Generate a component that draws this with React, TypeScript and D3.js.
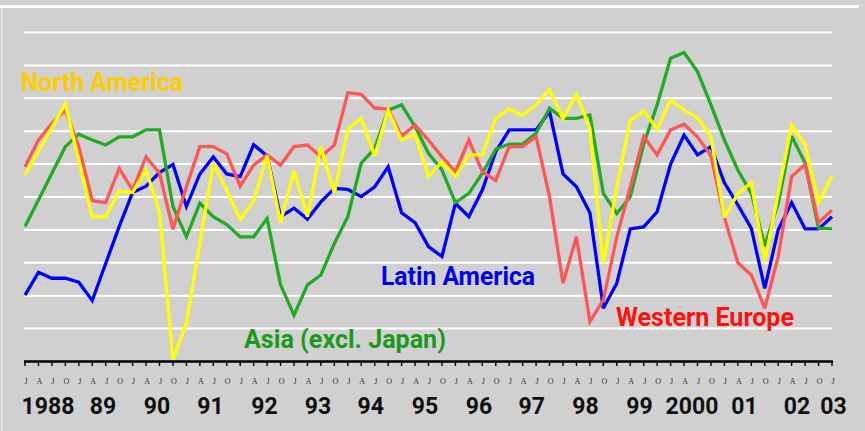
import React from "react";
import * as d3 from "d3";

const W = 865;
const H = 431;

// quarters from Jan 1988 (index 0) to Jan 2003 (index 60)
const quarterLetters = ["J", "A", "J", "O"];
const yearLabels = ["1988", "89", "90", "91", "92", "93", "94", "95", "96", "97", "98", "99", "2000", "01", "02", "03"];
const yearLabelQuarter = [1.71, 5.8, 9.81, 13.79, 17.81, 21.78, 25.71, 29.74, 33.75, 37.67, 41.67, 45.69, 49.59, 53.49, 57.4, 60.11];

const northAmerica = [
  5.67, 6.39, 7.11, 7.83, 6.12, 4.4, 4.4, 5.18, 5.14, 5.82, 4.55, 0.05, 1.16, 3.59, 6.03, 5.21,
  4.32, 4.89, 6.25, 4.22, 5.8, 4.4, 6.53, 5.13, 7.06, 7.39, 6.25, 7.64, 6.73, 6.91, 5.62, 6.07,
  5.62, 6.28, 6.28, 7.39, 7.68, 7.48, 7.8, 8.27, 7.38, 8.13, 7.09, 2.98, 5.31, 7.32, 7.62, 7.06,
  7.95, 7.64, 7.41, 6.83, 4.38, 5.11, 5.43, 3.03, 5.11, 7.19, 6.58, 4.83, 5.64,
];
const latinAmerica = [
  2.02, 2.71, 2.53, 2.53, 2.41, 1.85, 2.98, 4.1, 5.14, 5.33, 5.74, 5.99, 4.71, 5.7, 6.22, 5.7,
  5.62, 6.59, 6.25, 4.4, 4.66, 4.33, 4.85, 5.26, 5.23, 5.01, 5.31, 5.92, 4.52, 4.22, 3.49, 3.19,
  4.81, 4.4, 5.21, 6.38, 7.04, 7.04, 7.04, 7.6, 5.7, 5.31, 4.52, 1.62, 2.38, 4.03, 4.09, 4.55,
  6.0, 6.88, 6.28, 6.53, 5.43, 4.76, 4.05, 2.22, 4.0, 4.83, 4.03, 4.03, 4.4,
];
const asiaExJapan = [
  4.1, 4.91, 5.72, 6.53, 6.91, 6.73, 6.58, 6.83, 6.83, 7.04, 7.04, 4.71, 3.79, 4.81, 4.4, 4.16,
  3.79, 3.79, 4.35, 2.33, 1.41, 2.33, 2.63, 3.59, 4.4, 6.03, 6.48, 7.64, 7.8, 7.14, 6.33, 5.82,
  4.83, 5.11, 5.72, 6.45, 6.61, 6.61, 6.94, 7.7, 7.39, 7.39, 7.49, 5.11, 4.5, 5.01, 6.61, 7.8,
  9.22, 9.39, 8.81, 7.8, 6.73, 5.82, 5.11, 3.51, 4.81, 6.85, 6.03, 4.05, 4.03,
];
const westernEurope = [
  5.92, 6.73, 7.24, 7.64, 6.53, 4.89, 4.83, 5.87, 5.21, 6.22, 5.72, 4.02, 5.31, 6.53, 6.53, 6.31,
  5.33, 5.97, 6.28, 5.97, 6.53, 6.58, 6.22, 6.58, 8.17, 8.12, 7.7, 7.67, 6.85, 7.19, 6.73, 6.22,
  5.77, 6.73, 5.77, 5.5, 6.53, 6.53, 6.83, 5.01, 2.38, 3.79, 1.21, 1.87, 3.79, 5.3, 6.84, 6.28,
  7.04, 7.21, 6.83, 6.25, 4.38, 3.0, 2.63, 1.62, 3.19, 5.62, 5.99, 4.22, 4.6,
];

const gridValues = [1, 2, 3, 4, 5, 6, 7, 8, 9, 10];

const series = [
  { name: "Latin America", values: latinAmerica, color: "#0000ff" },
  { name: "Asia (excl. Japan)", values: asiaExJapan, color: "#22aa22" },
  { name: "Western Europe", values: westernEurope, color: "#ff5555" },
  { name: "North America", values: northAmerica, color: "#ffff00" },
];

const labels = [
  { text: "North America", color: "#ffcc00", x: 21, y: 90.5, w: 162 },
  { text: "Latin America", color: "#0000f0", x: 381, y: 285, w: 154 },
  { text: "Asia (excl. Japan)", color: "#1a9a1a", x: 244, y: 348, w: 202 },
  { text: "Western Europe", color: "#ff1010", x: 616, y: 326, w: 178 },
];

export default function App() {
  const x = d3.scaleLinear().domain([0, 60]).range([25, 832]);
  const y = d3.scaleLinear().domain([0, 10]).range([361.5, 32.5]);
  const line = d3
    .line<number>()
    .x((_, i) => x(i))
    .y((d) => y(d));
  const ticks = d3.range(0, 61);

  return (
    <svg
      width={W}
      height={H}
      style={{ position: "absolute", left: 0, top: 0, display: "block" }}
    >
      <rect x={0} y={0} width={W} height={H} fill="#d0d0d0" />
      <rect x={0} y={5} width={859} height={3} fill="#ffffff" />
      <rect x={1} y={8} width={1.5} height={H - 8} fill="#e6e6e6" />
      {gridValues.map((g) => (
        <line key={g} x1={24} x2={832} y1={y(g)} y2={y(g)} stroke="#ffffff" strokeWidth={2} />
      ))}
      {series.map((s) => (
        <path
          key={s.name}
          d={line(s.values) || ""}
          fill="none"
          stroke={s.color}
          strokeWidth={3.3}
          strokeLinejoin="miter"
          strokeMiterlimit={3}
        />
      ))}
      <line x1={24} x2={833} y1={361.5} y2={361.5} stroke="#000" strokeWidth={2.5} />
      {ticks.map((t) => (
        <line key={t} x1={x(t)} x2={x(t)} y1={361} y2={366} stroke="#000" strokeWidth={1.4} />
      ))}
      {ticks.map((t) => (
        <text
          key={"q" + t}
          x={x(t) + 1}
          y={383.5}
          textAnchor="middle"
          fontFamily="'Liberation Serif', 'DejaVu Serif', serif"
          fontSize={8}
          fill="#333"
        >
          {quarterLetters[t % 4]}
        </text>
      ))}
      {yearLabels.map((lab, i) => (
        <text
          key={lab}
          x={x(yearLabelQuarter[i])}
          y={414}
          textAnchor="middle"
          fontFamily="Roboto, 'Noto Sans', sans-serif"
          fontWeight="bold"
          fontSize={23}
          fill="#111"
        >
          {lab}
        </text>
      ))}
      {labels.map((l) => (
        <text
          key={l.text}
          x={l.x}
          y={l.y}
          fontFamily="Roboto, 'Noto Sans', sans-serif"
          fontWeight="bold"
          fontSize={25}
          fill={l.color}
          textLength={l.w}
          lengthAdjust="spacingAndGlyphs"
        >
          {l.text}
        </text>
      ))}
    </svg>
  );
}
